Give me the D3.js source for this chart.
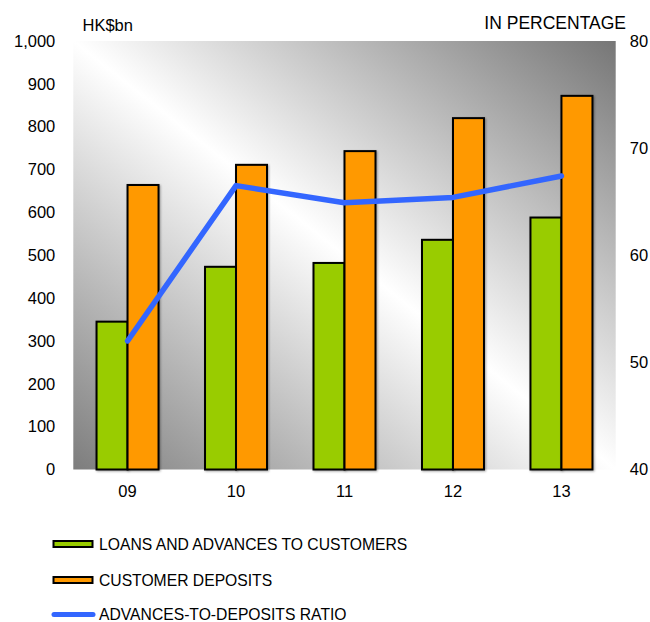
<!DOCTYPE html>
<html>
<head>
<meta charset="utf-8">
<script src="https://cdn.jsdelivr.net/npm/d3@7"></script>
<style>
  html, body { margin: 0; padding: 0; background: #fff; }
  svg { display: block; font-family: "Liberation Sans", Arial, sans-serif; }
</style>
</head>
<body>
<svg id="chart" width="650" height="622"></svg>
<script>
// Years (x categories)
const years = ["09", "10", "11", "12", "13"];
// HK$bn
const loans = [345, 473, 482, 536, 588];
const deposits = [664, 711, 743, 820, 872];
// Advances-to-deposits ratio, %
const ratio = [52.0, 66.5, 64.9, 65.4, 67.4];

const leftTicks = [0, 100, 200, 300, 400, 500, 600, 700, 800, 900, 1000];
const rightTicks = [40, 50, 60, 70, 80];

const seriesNames = ["LOANS AND ADVANCES TO CUSTOMERS", "CUSTOMER DEPOSITS", "ADVANCES-TO-DEPOSITS RATIO"];
const colors = { loans: "#99cc00", deposits: "#ff9900", ratio: "#3366ff" };

const svg = d3.select("#chart");
const plot = { left: 73.3, right: 615.7, top: 41, bottom: 469.5 };

const x = d3.scaleBand().domain(years).range([plot.left, plot.right]);
const xSub = d3.scaleBand().domain(["loans", "deposits"]).range([0, x.bandwidth()]).paddingOuter(0.75);
const yL = d3.scaleLinear().domain([0, 1000]).range([plot.bottom, plot.top]);
const yR = d3.scaleLinear().domain([40, 80]).range([plot.bottom, plot.top]);

const defs = svg.append("defs");
const grad = defs.append("linearGradient")
  .attr("id", "bg").attr("x1", 0).attr("y1", 1).attr("x2", 1).attr("y2", 0);
grad.append("stop").attr("offset", 0).attr("stop-color", "#7d7d7d");
grad.append("stop").attr("offset", 0.5).attr("stop-color", "#ffffff");
grad.append("stop").attr("offset", 1).attr("stop-color", "#767676");

const shadow = defs.append("filter").attr("id", "shadow")
  .attr("x", "-20%").attr("y", "-20%").attr("width", "140%").attr("height", "140%");
shadow.append("feDropShadow").attr("dx", 1).attr("dy", 1).attr("stdDeviation", 1)
  .attr("flood-color", "#000").attr("flood-opacity", 0.35);

// Plot background
svg.append("rect")
  .attr("x", plot.left).attr("y", plot.top)
  .attr("width", plot.right - plot.left).attr("height", plot.bottom - plot.top)
  .attr("fill", "url(#bg)");

// Bars
const rows = years.map((yr, i) => ({ yr, loans: loans[i], deposits: deposits[i] }));
const groups = svg.append("g").selectAll("g").data(rows).join("g")
  .attr("transform", d => `translate(${x(d.yr)},0)`);
groups.selectAll("rect")
  .data(d => ["loans", "deposits"].map(k => ({ k, v: d[k] })))
  .join("rect")
  .attr("x", d => xSub(d.k))
  .attr("y", d => yL(d.v))
  .attr("width", xSub.bandwidth())
  .attr("height", d => yL(0) - yL(d.v))
  .attr("fill", d => colors[d.k])
  .attr("stroke", "#000")
  .attr("stroke-width", 2)
  .attr("filter", "url(#shadow)");

// Ratio line
const line = d3.line()
  .x((d, i) => x(years[i]) + x.bandwidth() / 2)
  .y(d => yR(d));
svg.append("path")
  .datum(ratio)
  .attr("d", line)
  .attr("fill", "none")
  .attr("stroke", colors.ratio)
  .attr("stroke-width", 5.5)
  .attr("stroke-linejoin", "round")
  .attr("stroke-linecap", "round");

// Axes
const axL = svg.append("g")
  .attr("transform", `translate(${plot.left - 18},0)`)
  .call(d3.axisLeft(yL).tickValues(leftTicks).tickSize(0).tickPadding(0).tickFormat(d3.format(",")));
const axR = svg.append("g")
  .attr("transform", `translate(${plot.right + 14},0)`)
  .call(d3.axisRight(yR).tickValues(rightTicks).tickSize(0).tickPadding(0));
const axB = svg.append("g")
  .attr("transform", `translate(0,${plot.bottom + 27})`)
  .call(d3.axisBottom(x).tickSize(0).tickPadding(0));
[axL, axR, axB].forEach(a => {
  a.select(".domain").remove();
  a.selectAll("text").attr("font-size", "16.5px").attr("fill", "#000")
    .attr("font-family", "'Liberation Sans', Arial, sans-serif");
});
axB.selectAll("text").attr("dy", 0);

// Axis titles
svg.append("text").attr("x", 82.5).attr("y", 31)
  .attr("font-size", "16.5px").text("HK$bn");
svg.append("text").attr("x", 626).attr("y", 29).attr("text-anchor", "end")
  .attr("font-size", "17.5px").text("IN PERCENTAGE");

// Legend
const legend = svg.append("g");
const legY = [544, 580, 614.5];
seriesNames.forEach((name, i) => {
  const g = legend.append("g").attr("transform", `translate(0,${legY[i]})`);
  if (i < 2) {
    g.append("rect").attr("x", 53.5).attr("y", -3).attr("width", 39).attr("height", 6)
      .attr("fill", i === 0 ? colors.loans : colors.deposits)
      .attr("stroke", "#000").attr("stroke-width", 2);
  } else {
    g.append("line").attr("x1", 54).attr("x2", 93).attr("y1", 0).attr("y2", 0)
      .attr("stroke", colors.ratio).attr("stroke-width", 5).attr("stroke-linecap", "round");
  }
  g.append("text").attr("x", 99).attr("y", 0).attr("dy", "0.36em")
    .attr("font-size", "15.7px").text(name);
});
</script>
</body>
</html>
